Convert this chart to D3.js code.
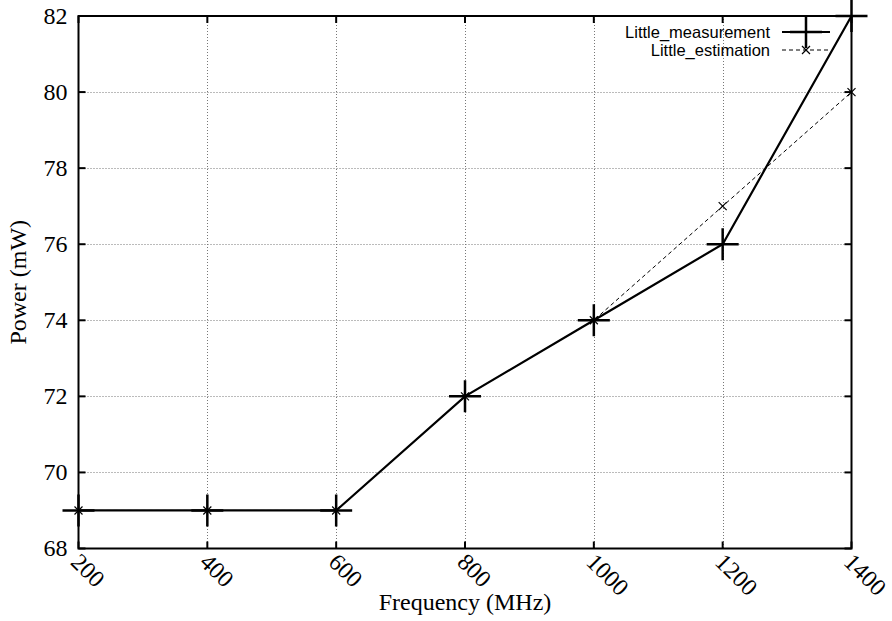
<!DOCTYPE html>
<html>
<head>
<meta charset="utf-8">
<script src="https://cdn.jsdelivr.net/npm/d3@7"></script>
<style>
  body { margin: 0; background: #fff; }
  svg { display: block; }
</style>
</head>
<body>
<div class="d3-elem"></div>
<script>
// chart values
const freqs = [200, 400, 600, 800, 1000, 1200, 1400];
const measurement = [69, 69, 69, 72, 74, 76, 82];
const estimation = [69, 69, 69, 72, 74, 77, 80];
const yTicks = [68, 70, 72, 74, 76, 78, 80, 82];
const seriesNames = ["Little_measurement", "Little_estimation"];

const W = 892, H = 621;
const m = { left: 78.5, right: 892 - 851.5, top: 16, bottom: 621 - 548.5 };

const svg = d3.select(".d3-elem").append("svg")
  .attr("width", W)
  .attr("height", H);

const x = d3.scaleLinear().domain([200, 1400]).range([m.left, W - m.right]);
const y = d3.scaleLinear().domain([68, 82]).range([H - m.bottom, m.top]);

const serif = "'Liberation Serif', 'Times New Roman', serif";
const sans = "'Liberation Sans', Arial, Helvetica, sans-serif";

// grid
const grid = svg.append("g").attr("stroke", "#777").attr("stroke-width", 1).attr("stroke-dasharray", "1,2");
grid.selectAll("line.h").data(yTicks.slice(1, -1)).enter().append("line")
  .attr("x1", m.left).attr("x2", W - m.right)
  .attr("y1", d => Math.round(y(d)) + 0.5).attr("y2", d => Math.round(y(d)) + 0.5);
grid.selectAll("line.v").data(freqs.slice(1, -1)).enter().append("line")
  .attr("y1", m.top).attr("y2", H - m.bottom)
  .attr("x1", d => Math.round(x(d)) + 0.5).attr("x2", d => Math.round(x(d)) + 0.5);

// tick marks (inside)
const ticks = svg.append("g").attr("stroke", "#000").attr("stroke-width", 2);
ticks.selectAll("line.yt").data(yTicks).enter().append("line")
  .attr("x1", m.left).attr("x2", m.left + 7)
  .attr("y1", d => y(d)).attr("y2", d => y(d));
ticks.selectAll("line.yt2").data(yTicks).enter().append("line")
  .attr("x1", W - m.right).attr("x2", W - m.right - 7)
  .attr("y1", d => y(d)).attr("y2", d => y(d));
ticks.selectAll("line.xt").data(freqs).enter().append("line")
  .attr("y1", H - m.bottom).attr("y2", H - m.bottom - 7)
  .attr("x1", d => x(d)).attr("x2", d => x(d));
ticks.selectAll("line.xt2").data(freqs).enter().append("line")
  .attr("y1", m.top).attr("y2", m.top + 7)
  .attr("x1", d => x(d)).attr("x2", d => x(d));

// frame
svg.append("rect")
  .attr("x", m.left).attr("y", m.top)
  .attr("width", W - m.left - m.right).attr("height", H - m.top - m.bottom)
  .attr("fill", "none").attr("stroke", "#000").attr("stroke-width", 2);

// tick labels
svg.selectAll("text.yl").data(yTicks).enter().append("text")
  .attr("x", m.left - 11).attr("y", d => y(d))
  .attr("dy", "0.33em")
  .attr("text-anchor", "end")
  .attr("font-family", serif).attr("font-size", 24)
  .text(d => d);

svg.selectAll("text.xl").data(freqs).enter().append("text")
  .attr("transform", d => "translate(" + (x(d) + 3) + "," + (H - m.bottom + 3) + ") rotate(45)")
  .attr("dy", "0.7em")
  .attr("text-anchor", "start")
  .attr("font-family", serif).attr("font-size", 24)
  .text(d => d);

// axis titles
svg.append("text")
  .attr("x", (m.left + W - m.right) / 2).attr("y", 610)
  .attr("text-anchor", "middle")
  .attr("font-family", serif).attr("font-size", 24)
  .text("Frequency (MHz)");
svg.append("text")
  .attr("transform", "translate(26," + ((m.top + H - m.bottom) / 2) + ") rotate(-90)")
  .attr("text-anchor", "middle")
  .attr("font-family", serif).attr("font-size", 24)
  .text("Power (mW)");

const line = d3.line().x(d => x(d[0])).y(d => y(d[1]));

// estimation series (dashed + small x)
const estPts = freqs.map((f, i) => [f, estimation[i]]);
svg.append("path").attr("d", line(estPts))
  .attr("fill", "none").attr("stroke", "#000").attr("stroke-width", 1)
  .attr("stroke-dasharray", "4,3");
const cross = (g, cx, cy, r) => {
  g.append("path")
    .attr("d", `M${cx - r},${cy - r}L${cx + r},${cy + r}M${cx - r},${cy + r}L${cx + r},${cy - r}`)
    .attr("stroke", "#000").attr("stroke-width", 1.2).attr("fill", "none");
};
const estG = svg.append("g");
estPts.forEach(p => cross(estG, x(p[0]), y(p[1]), 4));

// measurement series (solid + big plus)
const measPts = freqs.map((f, i) => [f, measurement[i]]);
svg.append("path").attr("d", line(measPts))
  .attr("fill", "none").attr("stroke", "#000").attr("stroke-width", 2.2);
const plus = (g, cx, cy, r) => {
  g.append("path")
    .attr("d", `M${cx - r},${cy}L${cx + r},${cy}M${cx},${cy - r}L${cx},${cy + r}`)
    .attr("stroke", "#000").attr("stroke-width", 2.5).attr("fill", "none");
};
const measG = svg.append("g");
measPts.forEach(p => plus(measG, x(p[0]), y(p[1]), 16));

// legend
const leg = svg.append("g");
const legY = [32, 50];
leg.selectAll("text").data(seriesNames).enter().append("text")
  .attr("x", 770).attr("y", (d, i) => legY[i])
  .attr("dy", "0.35em")
  .attr("text-anchor", "end")
  .attr("font-family", sans).attr("font-size", 16.5)
  .text(d => d);
leg.append("line").attr("x1", 782).attr("x2", 830).attr("y1", legY[0]).attr("y2", legY[0])
  .attr("stroke", "#000").attr("stroke-width", 2.2);
plus(leg, 806, legY[0], 16);
leg.append("line").attr("x1", 782).attr("x2", 830).attr("y1", legY[1]).attr("y2", legY[1])
  .attr("stroke", "#000").attr("stroke-width", 1).attr("stroke-dasharray", "4,3");
cross(leg, 806, legY[1], 4);
</script>
</body>
</html>
